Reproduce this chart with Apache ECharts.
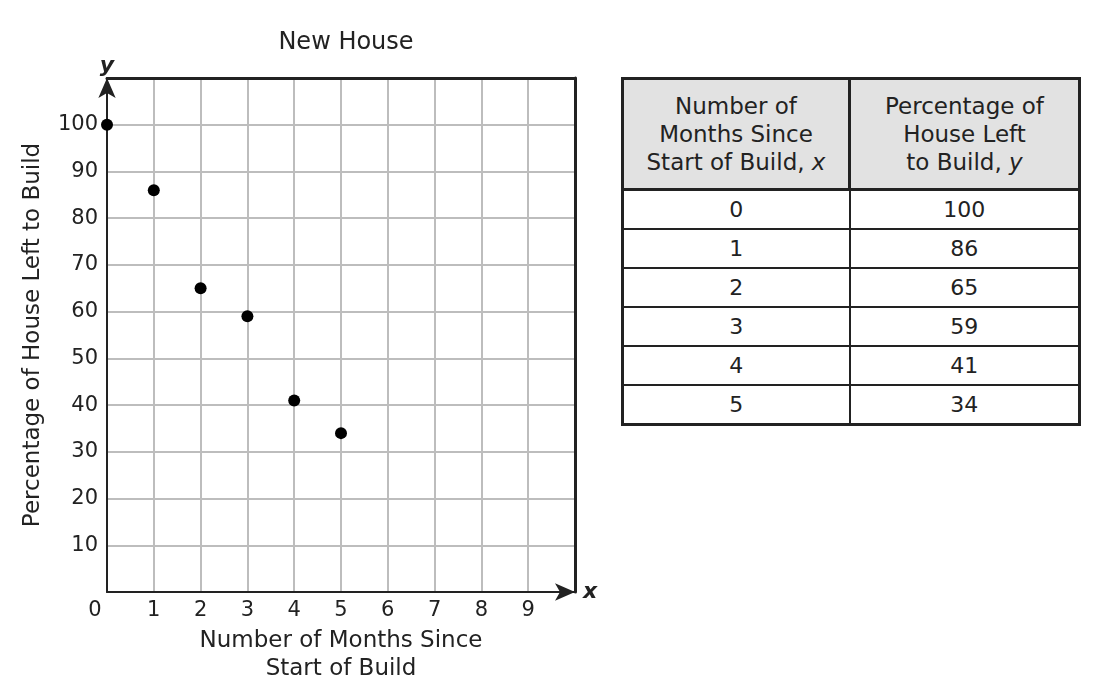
<!DOCTYPE html>
<html>
<head>
<meta charset="utf-8">
<script src="https://cdn.jsdelivr.net/npm/echarts@6/dist/echarts.min.js"></script>
<style>
  body { margin: 0; background: #fff; font-family: "DejaVu Sans", Verdana, sans-serif; }
  #main { position: absolute; left: 0; top: 0; width: 610px; height: 690px; }
  #tbl {
    position: absolute; left: 621px; top: 77px; width: 460px;
    border-collapse: collapse; border: 3px solid #222;
    font-size: 22px; color: #222; text-align: center;
  }
  #tbl th { background: #e2e2e2; font-weight: normal; font-size: 23px; height: 108px; line-height: 28px;
    border: 3px solid #222; padding: 0; }
  #tbl td { height: 37px; border: 2px solid #222; padding: 0; }
  #tbl th:first-child, #tbl td:first-child { width: 224px; }
</style>
</head>
<body>
<div id="main"></div>
<table id="tbl"></table>
<script>
  var months = [0, 1, 2, 3, 4, 5]
  var percentLeft = [100, 86, 65, 59, 41, 34]
  var xTicks = [0, 1, 2, 3, 4, 5, 6, 7, 8, 9]
  var yTicks = [10, 20, 30, 40, 50, 60, 70, 80, 90, 100]
  var headers = ['Number of<br>Months Since<br>Start of Build, <i>x</i>',
                 'Percentage of<br>House Left<br>to Build, <i>y</i>']

  // table on the right
  var tbl = document.getElementById('tbl')
  var html = '<tr><th>' + headers[0] + '</th><th>' + headers[1] + '</th></tr>'
  for (var i = 0; i < months.length; i++) {
    html += '<tr><td>' + months[i] + '</td><td>' + percentLeft[i] + '</td></tr>'
  }
  tbl.innerHTML = html

  var font = '"DejaVu Sans", Verdana, sans-serif'
  var frame = { show: true, onZero: false, lineStyle: { color: '#222', width: 3 } }
  var myChart = echarts.init(document.getElementById('main'))
  myChart.setOption({
    animation: false,
    textStyle: { fontFamily: font },
    title: {
      text: 'New House', left: 341, top: 26, textAlign: 'center',
      textStyle: { fontFamily: font, fontSize: 24, fontWeight: 'normal', color: '#222' }
    },
    grid: { left: 107, top: 78, width: 468, height: 514 },
    xAxis: [{
      type: 'value', min: 0, max: 10, interval: 1,
      name: 'x', nameLocation: 'end', nameGap: 8,
      nameTextStyle: { fontFamily: font, fontSize: 22, fontStyle: 'italic', fontWeight: 'bold', color: '#222', verticalAlign: 'middle' },
      axisLine: { lineStyle: { color: '#222', width: 2 }, symbol: ['none', 'arrow'], symbolSize: [13, 20], symbolOffset: [0, 0] },
      axisTick: { show: false },
      splitLine: { lineStyle: { color: '#bdbdbd', width: 2 } },
      axisLabel: {
        fontSize: 21, color: '#222', margin: 8,
        formatter: function (v) {
          if (xTicks.indexOf(v) < 0) return ''
          return v === 0 ? '{z|0}' : String(v)
        },
        rich: { z: { fontSize: 21, color: '#222', padding: [0, 24, 0, 0] } }
      }
    }, {
      type: 'value', position: 'top', min: 0, max: 10,
      axisLine: frame, axisTick: { show: false }, axisLabel: { show: false }, splitLine: { show: false }
    }],
    yAxis: [{
      type: 'value', min: 0, max: 110, interval: 10,
      name: 'y', nameLocation: 'end', nameGap: 1,
      nameTextStyle: { fontFamily: font, fontSize: 22, fontStyle: 'italic', fontWeight: 'bold', color: '#222' },
      axisLine: { lineStyle: { color: '#222', width: 2 }, symbol: ['none', 'arrow'], symbolSize: [13, 20], symbolOffset: [0, 0] },
      axisTick: { show: false },
      splitLine: { lineStyle: { color: '#bdbdbd', width: 2 } },
      axisLabel: {
        fontSize: 21, color: '#222', margin: 9,
        formatter: function (v) { return yTicks.indexOf(v) < 0 ? '' : String(v) }
      }
    }, {
      type: 'value', position: 'right', min: 0, max: 110,
      axisLine: frame, axisTick: { show: false }, axisLabel: { show: false }, splitLine: { show: false }
    }],
    graphic: [
      {
        type: 'text', x: 33, y: 335, rotation: Math.PI / 2,
        style: { text: 'Percentage of House Left to Build', fontFamily: font, fontSize: 23,
          fill: '#222', align: 'center', verticalAlign: 'middle' }
      },
      {
        type: 'text', x: 341, y: 655,
        style: { text: 'Number of Months Since\nStart of Build', fontFamily: font, fontSize: 23,
          lineHeight: 28, fill: '#222', align: 'center', verticalAlign: 'middle' }
      }
    ],
    series: [{
      type: 'scatter',
      symbolSize: 12,
      itemStyle: { color: '#000', opacity: 1 },
      data: months.map(function (m, i) { return [m, percentLeft[i]] })
    }]
  })
</script>
</body>
</html>
